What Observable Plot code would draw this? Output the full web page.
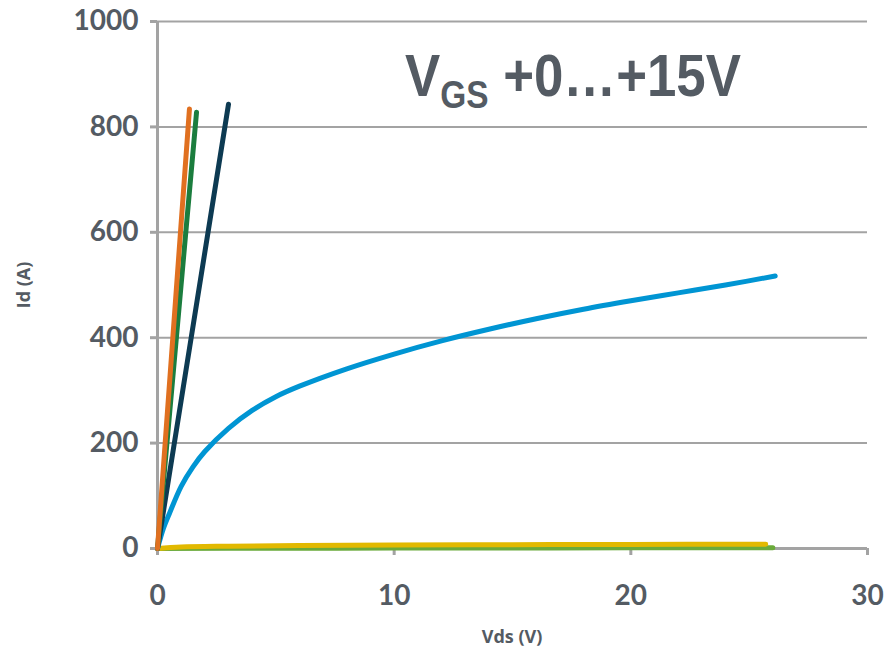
<!DOCTYPE html>
<html>
<head>
<meta charset="utf-8">
<script src="https://cdn.jsdelivr.net/npm/d3@7"></script>
<script src="https://cdn.jsdelivr.net/npm/@observablehq/plot@0.6"></script>
<style>
  html, body { margin: 0; padding: 0; background: #fff; }
  #chart { position: relative; width: 887px; height: 656px; }
  #chart svg { font-family: Lato, "Open Sans", sans-serif; }
</style>
</head>
<body>
<div id="chart"></div>
<script>
// ---- data ----
const xTicks = [0, 10, 20, 30];
const yTicks = [0, 200, 400, 600, 800, 1000];
const titleMain = "V";
const titleSub = "GS";
const titleRest = " +0…+15V";
const xLabel = "Vds (V)";
const yLabel = "Id (A)";

const orangeX = [0, 1.35];
const orangeY = [0, 834];
const darkGreenX = [0, 1.65];
const darkGreenY = [0, 828];
const navyX = [0, 3.0];
const navyY = [0, 843];
const blueX = [0, 0.25, 0.5, 1, 1.5, 2, 3, 4, 5, 6, 8, 10, 12, 14, 16, 18, 20, 22, 24, 26.1];
const blueY = [0, 38, 66, 118, 155, 184, 228, 262, 288, 308, 341, 369, 394, 416, 436, 454, 470, 485, 500, 517];
const yellowX = [0, 1, 3, 6, 10, 15, 20, 25.7];
const yellowY = [0, 3, 4.5, 5.5, 6.5, 7.3, 7.8, 8.2];
const lightGreenX = [0, 5, 10, 15, 20, 26];
const lightGreenY = [0, 0.5, 0.8, 1, 1.2, 1.3];

const series = [
  {name: "lightgreen", xs: lightGreenX, ys: lightGreenY, color: "#6aaa3a"},
  {name: "yellow", xs: yellowX, ys: yellowY, color: "#e2b900"},
  {name: "blue", xs: blueX, ys: blueY, color: "#0095d3"},
  {name: "navy", xs: navyX, ys: navyY, color: "#0d3a52"},
  {name: "darkgreen", xs: darkGreenX, ys: darkGreenY, color: "#1b7d3e"},
  {name: "orange", xs: orangeX, ys: orangeY, color: "#e07020"}
];
const rows = series.flatMap(s => s.xs.map((x, i) => ({series: s.name, x, y: s.ys[i], color: s.color})));

const textColor = "#545b63";
const gridColor = "#a3a3a3";

const chart = Plot.plot({
  width: 887,
  height: 656,
  marginLeft: 157,
  marginRight: 20,
  marginTop: 21,
  marginBottom: 108,
  x: {domain: [0, 30]},
  y: {domain: [0, 1000]},
  marks: [
    Plot.ruleY(yTicks.filter(d => d > 0), {stroke: gridColor, strokeWidth: 2}),
    Plot.ruleY([0], {stroke: gridColor, strokeWidth: 3}),
    Plot.ruleX([0], {stroke: gridColor, strokeWidth: 3}),
    Plot.axisY({ticks: yTicks, tickFormat: d => String(d), tickSize: 7, tickPadding: 12, stroke: gridColor, strokeWidth: 3,
      fontSize: 28, fontWeight: "bold", fill: textColor, label: null}),
    Plot.axisX({ticks: xTicks, tickFormat: d => String(d), tickSize: 7, tickPadding: 30, stroke: gridColor, strokeWidth: 3,
      fontSize: 28, fontWeight: "bold", fill: textColor, label: null}),
    Plot.line(rows, {x: "x", y: "y", z: "series", stroke: "color", strokeWidth: 5,
      curve: "catmull-rom", strokeLinecap: "round", strokeLinejoin: "round"})
  ]
});
chart.style.overflow = "visible";
document.getElementById("chart").appendChild(chart);

const svg = d3.select(chart);
// title with subscript
const t = svg.append("text")
  .attr("transform", "translate(405,96) scale(0.88,1)")
  .attr("text-anchor", "start")
  .attr("fill", textColor)
  .attr("font-family", "'Liberation Sans', Arial, sans-serif")
  .attr("font-weight", "bold")
  .attr("font-size", 60);
t.append("tspan").text(titleMain);
t.append("tspan").attr("font-size", 38).attr("dy", 12).text(titleSub);
t.append("tspan").attr("dy", -12).text(titleRest);

// axis labels
svg.append("text")
  .attr("x", 512).attr("y", 643)
  .attr("text-anchor", "middle")
  .attr("fill", textColor)
  .attr("font-weight", "bold")
  .attr("font-size", 18)
  .attr("font-family", "'Open Sans', Lato, sans-serif")
  .text(xLabel);
svg.append("text")
  .attr("transform", "translate(30,285) rotate(-90)")
  .attr("text-anchor", "middle")
  .attr("fill", textColor)
  .attr("font-weight", "bold")
  .attr("font-size", 18)
  .attr("font-family", "'Open Sans', Lato, sans-serif")
  .text(yLabel);
</script>
</body>
</html>
